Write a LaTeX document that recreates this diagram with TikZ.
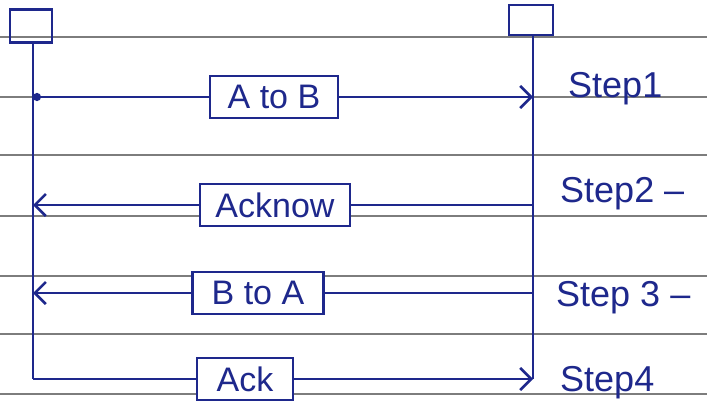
\documentclass[tikz,border=0pt]{standalone}
\usepackage{fontspec}
\setmainfont{Liberation Sans}
\usetikzlibrary{arrows.meta,positioning}
\definecolor{ink}{RGB}{30,40,140}
\definecolor{ruled}{RGB}{125,125,125}
\tikzset{
  barb/.tip={Straight Barb[length=11pt,width=22pt]},
  headbox/.style={draw=ink, line width=2.8pt, minimum width=42pt, minimum height=33pt, inner sep=0pt},
  lifeline/.style={draw=ink, line width=2.6pt},
  msg/.style={draw=ink, line width=2.6pt, -barb},
  msglabel/.style={draw=ink, line width=2.8pt, fill=white, text=ink, font=\fontsize{34}{36}\selectfont, inner sep=3pt, minimum height=42pt},
  steplabel/.style={text=ink, font=\fontsize{36}{38}\selectfont, anchor=base west, inner sep=0pt},
  ruling/.style={draw=ruled, line width=1.2pt}
}
\begin{document}
\begin{tikzpicture}[x=1pt, y=-1pt]
  \useasboundingbox (0,0) rectangle (707,412);
  \fill[white] (0,0) rectangle (707,412);
  % ruled paper
  \foreach \y in {37,97,155,216,276,334,394}
    \draw[ruling] (0,\y) -- (707,\y);

  % the two lifelines
  \node[headbox] (headA) at (31,26) {};
  \node[headbox, minimum width=44pt, minimum height=30pt] (headB) at (531,20) {};

  \coordinate (a1) at (33,97);
  \coordinate (b1) at (533,97);
  \coordinate (a2) at (33,205);
  \coordinate (b2) at (533,205);
  \coordinate (a3) at (33,293);
  \coordinate (b3) at (533,293);
  \coordinate (a4) at (33,379);
  \coordinate (b4) at (533,379);

  \draw[lifeline] (headA.south -| a1) -- (a4);
  \draw[lifeline] (headB.south -| b1) -- (b4);

  % messages
  \draw[msg, {Circle[length=8pt]}-barb] (a1) -- node[msglabel, minimum width=128pt, pos=0.482] (lab1) {A to B} (b1);
  \draw[msg] (b2) -- node[msglabel, minimum width=150pt, pos=0.516] (lab2) {Acknow} (a2);
  \draw[msg] (b3) -- node[msglabel, minimum width=131pt, pos=0.55] (lab3) {B to A} (a3);
  \draw[msg] (a4) -- node[msglabel, minimum width=96pt, pos=0.424] (lab4) {Ack} (b4);

  % step names
  \node[steplabel] (step1) at (568,97) {Step1};
  \node[steplabel] (step2) at (560,202) {Step2 –};
  \node[steplabel] (step3) at (556,306) {Step 3 –};
  \node[steplabel] (step4) at (560,391) {Step4};
\end{tikzpicture}
\end{document}
